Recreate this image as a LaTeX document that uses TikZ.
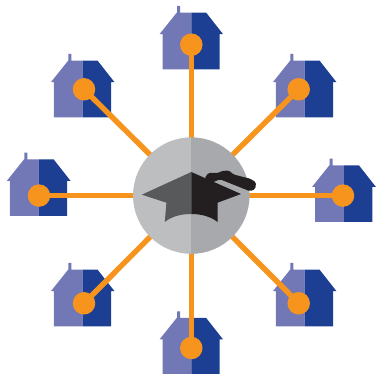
\documentclass[tikz,border=0pt]{standalone}
\usetikzlibrary{backgrounds}
\definecolor{houselight}{HTML}{7277B5}
\definecolor{housedark}{HTML}{1C3F94}
\definecolor{linkorange}{HTML}{F7941E}
\definecolor{hubleft}{HTML}{BCBEC0}
\definecolor{hubright}{HTML}{A7A9AC}
\definecolor{capleft}{HTML}{58595B}
\definecolor{capright}{HTML}{231F20}
\tikzset{
  dot/.style={circle,fill=linkorange,minimum size=22.5pt,inner sep=0pt,outer sep=0pt},
  hubnode/.style={circle,minimum size=116.5pt,inner sep=0pt,outer sep=0pt,
    path picture={
      \fill[hubleft] (path picture bounding box.north west) rectangle (path picture bounding box.south);
      \fill[hubright] (path picture bounding box.north) rectangle (path picture bounding box.south east);
    }},
  link/.style={draw=linkorange,line width=5.4pt}
}
% #1 x of the colour split, #2 y of the flat roof top
\newcommand{\housepic}[2]{
  \begin{scope}[shift={(#1,#2)}]
    \fill[houselight] (0,0) -- (-11.3,0) -- (-11.3,-6.7) -- (-14.3,-6.7) -- (-14.3,0) -- (-14.6,0)
      -- (-31.8,21.5) -- (-28.8,21.5) -- (-28.8,56.6) -- (0,56.6) -- cycle;
    \fill[housedark] (0,0) -- (14.9,0) -- (31.8,21.5) -- (28.4,21.5) -- (28.4,56.6) -- (0,56.6) -- cycle;
  \end{scope}
}
\begin{document}
\begin{tikzpicture}[x=1pt,y=-1pt]
\useasboundingbox (0,0) rectangle (376,374);
\node[hubnode] (hub) at (191.3,195.6) {};
\node[dot] (n) at (191.3,44.7) {};
\node[dot] (nw) at (84,89.3) {};
\node[dot] (ne) at (298.7,89.3) {};
\node[dot] (w) at (39,195.6) {};
\node[dot] (e) at (343,195.6) {};
\node[dot] (sw) at (84,303.3) {};
\node[dot] (se) at (298.7,303.3) {};
\node[dot] (s) at (191.3,348) {};
\begin{scope}[on background layer]
  \housepic{191.3}{12.7}
  \housepic{82.7}{60.7}
  \housepic{304.7}{60.7}
  \housepic{38.7}{159.3}
  \housepic{344}{165.3}
  \housepic{82.7}{269.7}
  \housepic{304.7}{269.7}
  \housepic{191.3}{318}
  \foreach \t in {n,nw,ne,w,e,sw,se,s}{
    \draw[link] (hub.center) -- (\t.center);
  }
\end{scope}
% mortarboard
\fill[capleft] (191.3,172) -- (141.8,194.7) -- (166.4,202.7) -- (164.8,222)
  .. controls (172,216) and (182,214) .. (191.3,214) -- cycle;
\fill[capright] (191.3,172) -- (241,194) -- (217.6,202.7) -- (217.6,222)
  .. controls (210,216) and (200,214) .. (191.3,214) -- cycle;
% tassel
\fill[capright,rounded corners=1.5pt] (204.5,178.3) -- (208.5,172.8) -- (218.3,173) -- (221.7,171) -- (228.8,170.5)
  -- (233.6,174.5) -- (250.5,178.8) -- (256,182.4) -- (255.3,189) -- (250,191.3) -- (220,179.3) -- (211.7,182.7) -- cycle;
\end{tikzpicture}
\end{document}
